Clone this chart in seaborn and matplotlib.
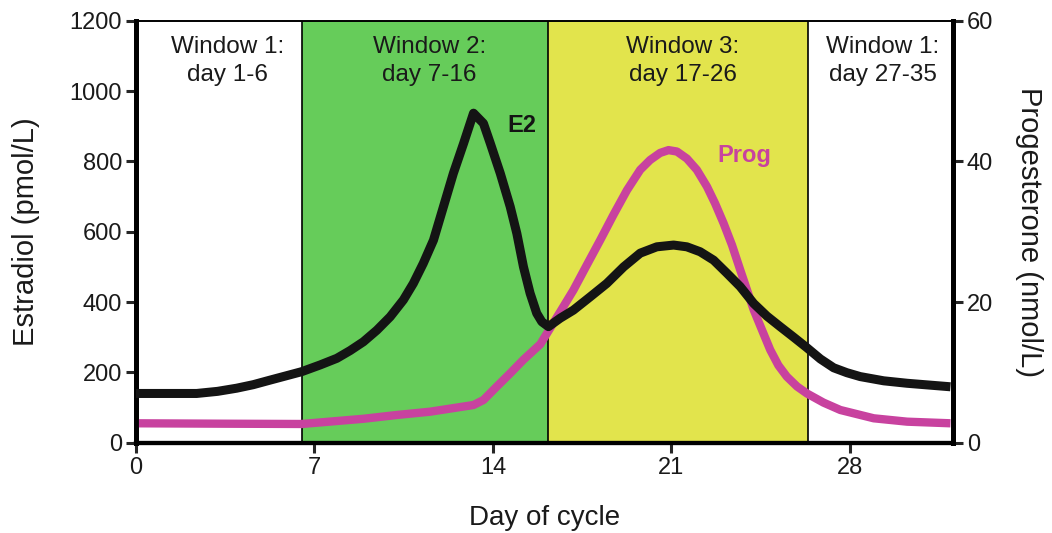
import numpy as np
import pandas as pd
import matplotlib
matplotlib.use("Agg")
import matplotlib.pyplot as plt
import seaborn as sns

# ---- data ----
e2_day = [0.0, 1.2, 2.38, 3.2, 3.95, 4.6, 5.26, 6.5, 7.22, 7.88, 8.4, 8.92,
          9.45, 9.97, 10.49, 10.88, 11.27, 11.67, 12.06, 12.45, 12.85, 13.24,
          13.63, 13.9, 14.29, 14.68, 14.94, 15.2, 15.46, 15.72, 15.92, 16.18,
          16.64, 17.16, 17.82, 18.47, 19.13, 19.78, 20.43, 21.09, 21.61, 22.13,
          22.66, 23.18, 23.7, 24.23, 24.75, 25.27, 25.8, 26.32, 26.85, 27.37,
          27.89, 28.41, 29.33, 30.25, 31.95]
e2_val = [140, 140, 140, 146, 155, 165, 178, 202, 221, 240, 262, 287,
          320, 358, 406, 453, 510, 576, 671, 766, 851, 937,
          908, 851, 766, 671, 595, 500, 425, 368, 344, 330,
          354, 377, 415, 453, 500, 539, 557, 562, 557, 543,
          519, 482, 444, 396, 360, 330, 300, 270, 238, 213,
          199, 188, 176, 169, 159]

prog_day = [0.0, 3.5, 6.5, 7.61, 8.92, 10.23, 11.54, 13.24, 13.63, 14.15,
            14.68, 15.2, 15.86, 16.25, 16.64, 17.16, 17.69, 18.21, 18.73,
            19.26, 19.78, 20.17, 20.56, 20.89, 21.22, 21.61, 22.0, 22.4,
            22.72, 23.05, 23.38, 23.7, 23.97, 24.23, 24.56, 24.88, 25.2,
            25.53, 25.93, 26.32, 26.97, 27.63, 28.94, 30.25, 31.95]
prog_val = [2.76, 2.7, 2.66, 3.0, 3.4, 3.94, 4.41, 5.36, 6.07, 7.97,
            9.87, 11.8, 14.0, 16.3, 18.6, 21.7, 25.3, 28.8, 32.4,
            35.9, 38.8, 40.2, 41.2, 41.6, 41.4, 40.4, 38.8, 36.4,
            34.0, 31.2, 28.1, 24.6, 21.7, 18.9, 16.0, 13.2, 11.0,
            9.4, 8.0, 7.0, 5.7, 4.65, 3.47, 2.99, 2.76]

window_edges = [6.5, 16.15, 26.35]
window_labels = ["Window 1:\nday 1-6", "Window 2:\nday 7-16",
                 "Window 3:\nday 17-26", "Window 1:\nday 27-35"]
window_label_x = [3.6, 11.5, 21.45, 29.3]

x_ticks = [0, 7, 14, 21, 28]
e2_ticks = [0, 200, 400, 600, 800, 1000, 1200]
prog_ticks = [0, 20, 40, 60]

e2_df = pd.DataFrame({"day": e2_day, "E2": e2_val})
prog_df = pd.DataFrame({"day": prog_day, "Prog": prog_val})

# ---- styling ----
sns.set_style("ticks")
plt.rcParams["font.family"] = ["Liberation Sans", "DejaVu Sans"]

GREEN = "#66cc5a"
YELLOW = "#e2e44c"
PINK = "#c8429f"
BLACK = "#141414"
TXT = "#1a1a1a"

fig = plt.figure(figsize=(10.52, 5.33), dpi=100)
ax = fig.add_axes([136 / 1052, 1 - 442.7 / 533, (953 - 136) / 1052, (442.7 - 20.7) / 533])
ax2 = ax.twinx()

# E2 axes drawn above the progesterone axes; backgrounds go on the bottom axes
ax.set_zorder(ax2.get_zorder() + 1)
ax.patch.set_visible(False)

ax.set_xlim(0, 32.05)
ax.set_ylim(0, 1200)
ax2.set_ylim(0, 60)

# windows
ax2.axvspan(window_edges[0], window_edges[1], color=GREEN, lw=0, zorder=0)
ax2.axvspan(window_edges[1], window_edges[2], color=YELLOW, lw=0, zorder=0)
for xe in window_edges:
    ax2.axvline(xe, color="black", lw=1.2, zorder=1)

for xl, lab in zip(window_label_x, window_labels):
    ax.text(xl, 1086, lab, ha="center", va="center", fontsize=17.5,
            color=TXT, linespacing=1.38, zorder=3)

# lines
sns.lineplot(data=prog_df, x="day", y="Prog", ax=ax2, color=PINK, lw=6,
             sort=False, estimator=None, solid_capstyle="butt",
             solid_joinstyle="round", zorder=3)
sns.lineplot(data=e2_df, x="day", y="E2", ax=ax, color=BLACK, lw=6.5,
             sort=False, estimator=None, solid_capstyle="butt",
             solid_joinstyle="round", zorder=4)

ax.text(15.15, 903, "E2", ha="center", va="center", fontsize=17,
        fontweight="bold", color=BLACK, zorder=5)
ax.text(23.86, 818, "Prog", ha="center", va="center", fontsize=17,
        fontweight="bold", color=PINK, zorder=5)

# axes / ticks
ax.set_xticks(x_ticks)
ax.set_yticks(e2_ticks)
ax2.set_yticks(prog_ticks)
for a in (ax, ax2):
    a.tick_params(axis="both", direction="out", length=7, width=2.2,
                  labelsize=17, labelcolor=TXT, pad=3)
    for s in a.spines.values():
        s.set_color("black")
    a.spines["left"].set_linewidth(3.5)
    a.spines["right"].set_linewidth(3.5)
    a.spines["bottom"].set_linewidth(3.0)
    a.spines["top"].set_linewidth(1.2)
    a.spines["top"].set_visible(True)
    a.spines["right"].set_visible(True)

ax.set_xlabel("Day of cycle", fontsize=20, color=TXT)
ax.set_ylabel("Estradiol (pmol/L)", fontsize=21, color=TXT)
ax2.set_ylabel("Progesterone (nmol/L)", fontsize=21, color=TXT, rotation=270)
ax.xaxis.set_label_coords(0.5, -0.148)
ax.yaxis.set_label_coords(-0.118, 0.5)
ax2.yaxis.set_label_coords(1.110, 0.5)
ax.grid(False)
ax2.grid(False)

fig.savefig("out.png", dpi=100)
